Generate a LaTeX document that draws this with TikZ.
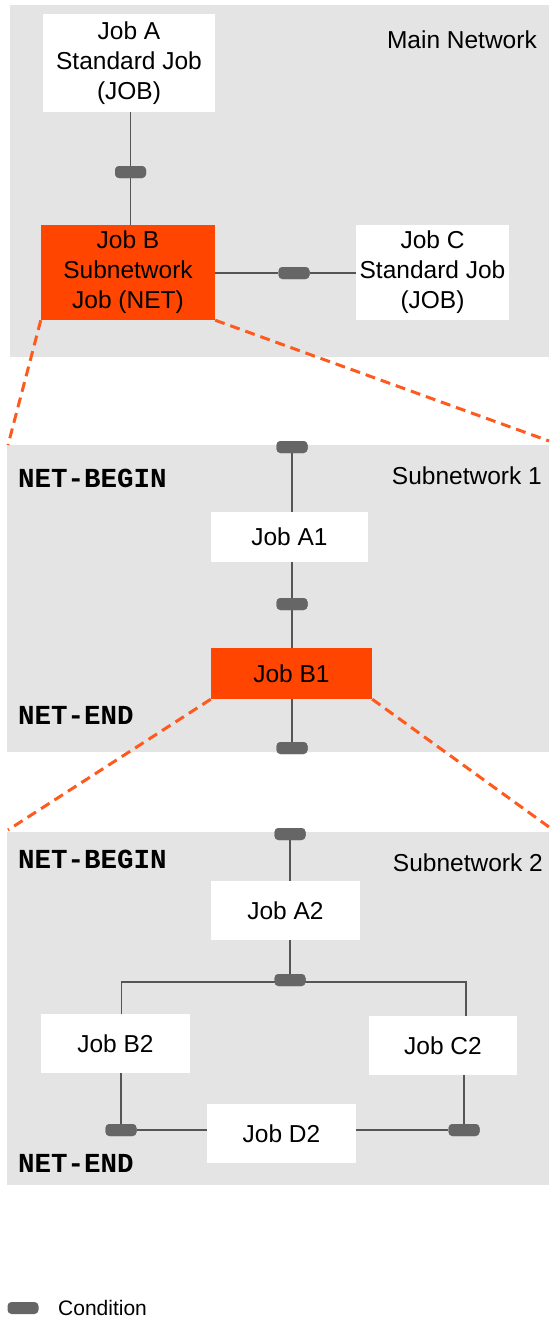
\documentclass[tikz,border=0pt]{standalone}
\usepackage{fontspec}
\setmainfont{Liberation Sans}
\setmonofont{Liberation Mono}
\definecolor{panelgrey}{HTML}{E4E4E4}
\definecolor{jobred}{HTML}{FF4500}
\definecolor{linkgrey}{HTML}{555555}
\definecolor{condgrey}{HTML}{666666}
\definecolor{zoomline}{HTML}{FF5A1E}
\begin{document}
\begin{tikzpicture}[x=1pt,y=-1pt,
  panel/.style={fill=panelgrey, draw=none},
  job/.style={fill=white, draw=none, inner sep=0pt, align=center,
    font=\fontsize{24.5}{30}\selectfont},
  netjob/.style={job, fill=jobred},
  cond/.style={fill=condgrey, draw=none, rounded corners=4pt,
    minimum width=31pt, minimum height=12pt, inner sep=0pt},
  link/.style={draw=linkgrey, line width=1.5pt},
  zoomlink/.style={draw=zoomline, line width=3pt, dash pattern=on 10pt off 6pt},
  title/.style={font=\fontsize{24.5}{28}\selectfont, anchor=east, inner sep=0pt},
  marker/.style={font=\ttfamily\bfseries\fontsize{27.5}{30}\selectfont, anchor=west, inner sep=0pt}]
\useasboundingbox (0,0) rectangle (549,1319);

% ---- panels ----
\fill[panelgrey] (10,5) rectangle (549,357);
\fill[panelgrey] (7,445) rectangle (549,752);
\fill[panelgrey] (7,832) rectangle (549,1185);

% ---- main network ----
\node[job, minimum width=172pt, minimum height=98pt] (A) at (129,63) {Job A\\Standard Job\\(JOB)};
\node[netjob, minimum width=174pt, minimum height=95pt] (B) at (128,272.5) {Job B\\Subnetwork\\Job (NET)};
\node[job, minimum width=153pt, minimum height=95pt] (C) at (432.5,272.5) {Job C\\Standard Job\\(JOB)};
\node[title] (mainTitle) at (537,40) {Main Network};
\node[cond] (cAB) at (130.5,172) {};
\node[cond] (cBC) at (294,273) {};
\draw[link] (cAB |- A.south) -- (cAB) -- (cAB |- B.north);
\draw[link] (B.east |- cBC) -- (cBC) -- (C.west |- cBC);
\node[cond] at (cAB) {};
\node[cond] at (cBC) {};

% ---- zoom into subnetwork 1 ----
\coordinate (s1L) at (8,445);
\coordinate (s1R) at (549,441);
\draw[zoomlink] (B.south west) -- (s1L);
\draw[zoomlink] (B.south east) -- (s1R);

% ---- subnetwork 1 ----
\node[job, minimum width=157pt, minimum height=50pt] (A1) at (289.5,537) {Job A1};
\node[netjob, minimum width=161pt, minimum height=51pt] (B1) at (291.5,673.5) {Job B1};
\node[cond] (c1a) at (292,447) {};
\node[cond] (c1b) at (292,604) {};
\node[cond] (c1c) at (292,748) {};
\draw[link] (c1a) -- (c1a |- A1.north);
\draw[link] (c1b |- A1.south) -- (c1b) -- (c1b |- B1.north);
\draw[link] (c1c |- B1.south) -- (c1c);
\node[cond] at (c1a) {};
\node[cond] at (c1b) {};
\node[cond] at (c1c) {};
\node[marker] (nb1) at (18,478) {NET-BEGIN};
\node[marker] (ne1) at (18,715) {NET-END};
\node[title] (sub1) at (542,476) {Subnetwork 1};

% ---- zoom into subnetwork 2 ----
\coordinate (s2L) at (8,830);
\coordinate (s2R) at (549,827);
\draw[zoomlink] (B1.south west) -- (s2L);
\draw[zoomlink] (B1.south east) -- (s2R);

% ---- subnetwork 2 ----
\node[job, minimum width=149pt, minimum height=59pt] (A2) at (285.5,910.5) {Job A2};
\node[job, minimum width=149pt, minimum height=59pt] (B2) at (115.5,1043.5) {Job B2};
\node[job, minimum width=148pt, minimum height=59pt] (C2) at (443,1045.5) {Job C2};
\node[job, minimum width=149pt, minimum height=59pt] (D2) at (281.5,1133.5) {Job D2};
\node[cond] (c2a) at (290,834) {};
\node[cond] (c2b) at (290,980) {};
\node[cond] (c2l) at (121,1130) {};
\node[cond] (c2r) at (464,1130) {};
\coordinate (forkL) at (121.5,982);
\coordinate (forkR) at (466,982);
\draw[link] (c2a) -- (c2a |- A2.north);
\draw[link] (c2b |- A2.south) -- (c2b);
\draw[link] (forkL |- B2.north) -- (forkL) -- (forkR) -- (forkR |- C2.north);
\draw[link] (c2l |- B2.south) -- (c2l) -- (D2.west |- c2l);
\draw[link] (D2.east |- c2r) -- (c2r) -- (c2r |- C2.south);
\node[cond] at (c2a) {};
\node[cond] at (c2b) {};
\node[cond] at (c2l) {};
\node[cond] at (c2r) {};
\node[marker] (nb2) at (18,859) {NET-BEGIN};
\node[marker] (ne2) at (18,1163) {NET-END};
\node[title] (sub2) at (543,863) {Subnetwork 2};

% ---- legend ----
\node[cond] (legCond) at (23,1308) {};
\node[anchor=west, inner sep=0pt, font=\fontsize{21}{24}\selectfont] (legText) at (58,1308) {Condition};
\end{tikzpicture}
\end{document}
